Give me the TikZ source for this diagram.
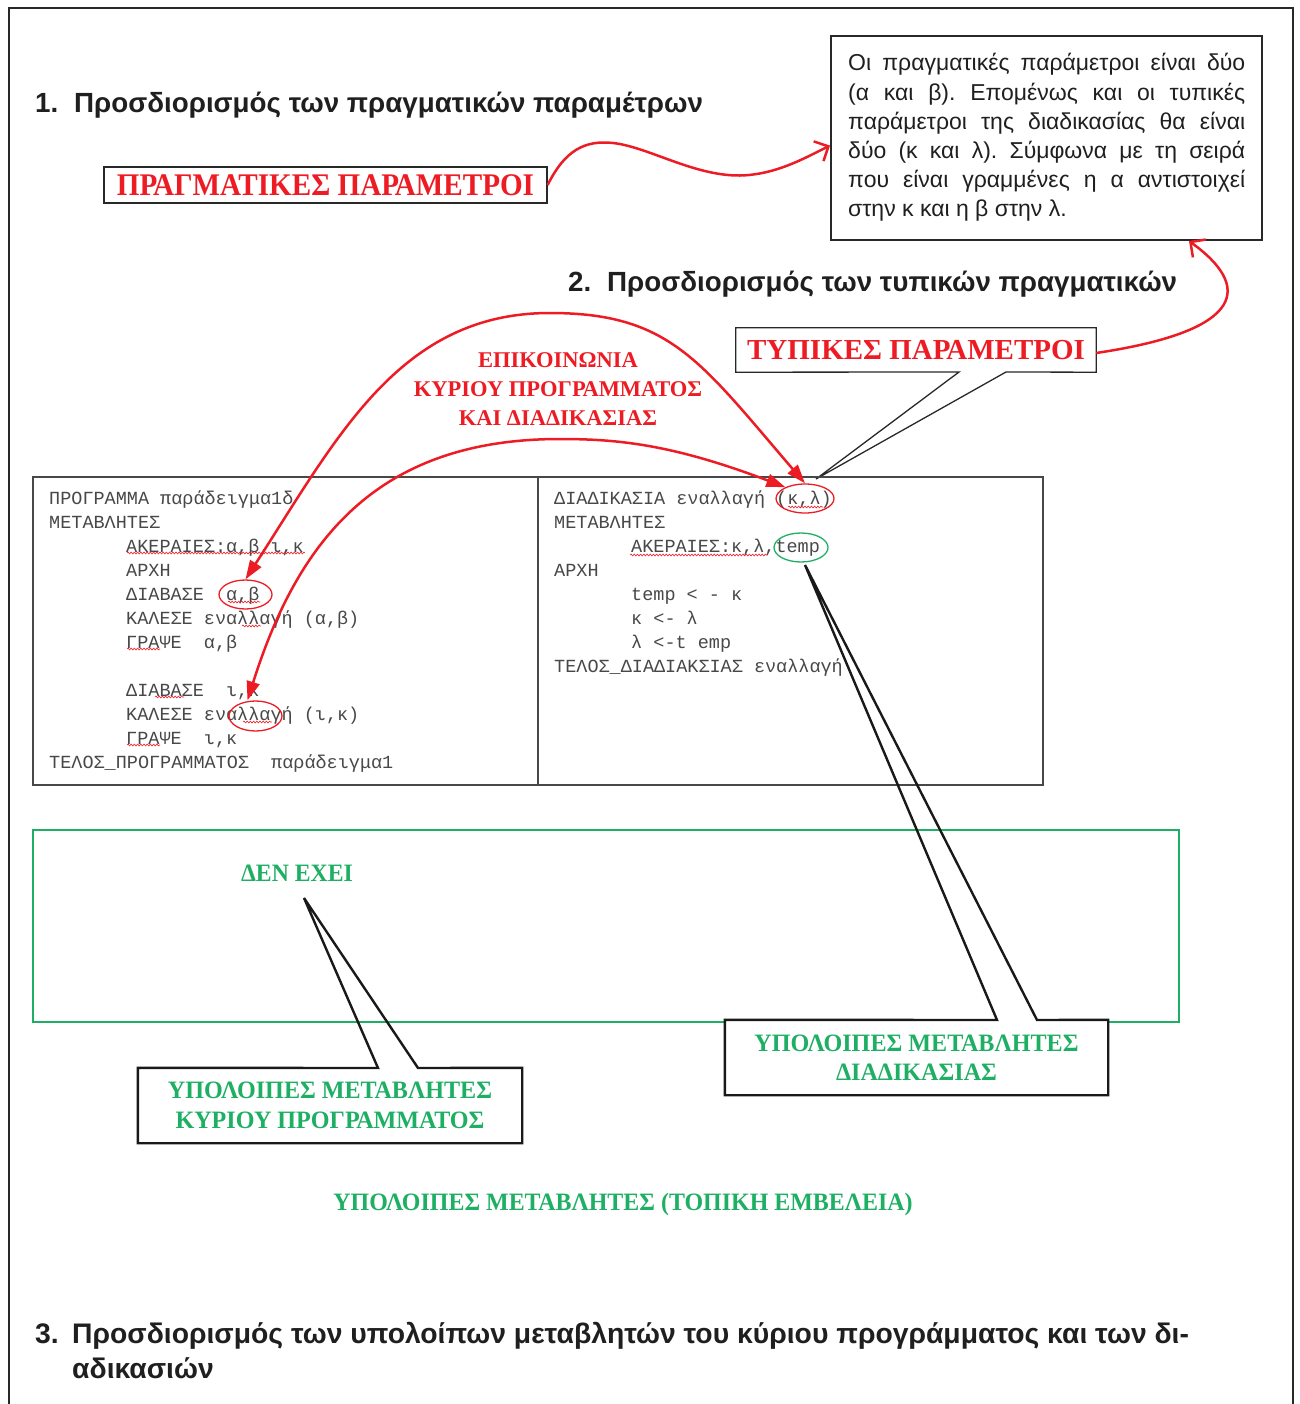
\documentclass[tikz,border=0pt]{standalone}
\usepackage{graphicx}
\usepackage{fontspec}
\setmainfont{Liberation Sans}
\newfontfamily\serifgr{Liberation Serif}
\newfontfamily\monogr{Liberation Mono}
\usetikzlibrary{arrows.meta,shapes.geometric,decorations.pathmorphing}

\definecolor{redline}{RGB}{237,28,36}
\definecolor{greenline}{RGB}{30,175,100}
\definecolor{codegray}{RGB}{72,72,72}
\definecolor{frame}{RGB}{40,40,40}

% horizontally narrowed text
\newcommand{\narrowed}[2]{\scalebox{#1}[1]{#2}}

\begin{document}
\begin{tikzpicture}[x=1pt,y=-1pt,
  head/.style={font=\bfseries\fontsize{27.75}{32}\selectfont, anchor=base west, inner sep=0pt, text=black!88},
  code/.style={font=\monogr\fontsize{18.5}{24}\selectfont, anchor=base west, inner sep=0pt, text=codegray},
  redlabel/.style={font=\serifgr\bfseries\fontsize{29}{34}\selectfont, text=redline, inner sep=0pt},
  redtitle/.style={font=\serifgr\bfseries\fontsize{22.5}{29}\selectfont, text=redline, align=center, inner sep=0pt},
  greenlabel/.style={font=\serifgr\bfseries\fontsize{25}{29.5}\selectfont, text=greenline, align=center, inner sep=0pt},
  ringmark/.style={ellipse, draw=redline, line width=1.3pt, inner sep=0pt},
  wavy/.style={draw=redline, line width=0.6pt, decorate, decoration={snake, amplitude=0.9pt, segment length=3.2pt}},
  link/.style={draw=redline, line width=2.5pt, {Triangle[length=19pt,width=13pt]}-{Triangle[length=19pt,width=13pt]}},
  pointer/.style={draw=redline, line width=2.5pt, -{Straight Barb[length=11pt,width=22pt]}},
  codebox/.style={draw=frame!85, line width=1.4pt},
  calloutline/.style={draw=black!90, line width=2.4pt, line join=miter}
]
\useasboundingbox (0,0) rectangle (1299,1404);

% outer frame, open at the bottom
\draw[frame, line width=2pt] (9,1404) -- (9,8) -- (1293,8) -- (1293,1404);

% section headings
\node[head] (h1) at (35,113) {\makebox[39pt][l]{1.}Προσδιορισμός των πραγματικών παραμέτρων};
\node[head] (h2) at (568,292) {\makebox[39pt][l]{2.}Προσδιορισμός των τυπικών πραγματικών};
\node[head, font=\bfseries\fontsize{28.3}{32}\selectfont] (h3a) at (35,1343) {\makebox[37pt][l]{3.}Προσδιορισμός των υπολοίπων μεταβλητών του κύριου προγράμματος και των δι-};
\node[head, font=\bfseries\fontsize{28.3}{32}\selectfont] (h3b) at (72,1378) {αδικασιών};

% explanation box
\node[draw=frame, line width=2pt, minimum width=431pt, minimum height=204pt, inner sep=0pt] (note) at (1046.5,138) {};
\node[anchor=base west, inner sep=0pt, text width=397pt, align=justify,
      font=\fontsize{23}{29.2}\selectfont\frenchspacing, text=black!88] (notetext) at (848,71)
  {Οι πραγματικές παράμετροι είναι δύο\linebreak
   (α και β). Επομένως και οι τυπικές\linebreak
   παράμετροι της διαδικασίας θα είναι\linebreak
   δύο (κ και λ). Σύμφωνα με τη σειρά\linebreak
   που είναι γραμμένες η α αντιστοιχεί\linebreak
   στην κ και η β στην λ.};

% actual parameters label
\node[redlabel, font=\serifgr\bfseries\fontsize{31.5}{34}\selectfont, draw=frame, line width=1.3pt, minimum width=443pt, minimum height=36pt] (prag) at (325.5,185) {\narrowed{0.925}{ΠΡΑΓΜΑΤΙΚΕΣ ΠΑΡΑΜΕΤΡΟΙ}};

% formal parameters label (callout)
\node[redlabel, minimum width=360pt, minimum height=44pt] (typ) at (916,350) {ΤΥΠΙΚΕΣ ΠΑΡΑΜΕΤΡΟΙ};
\coordinate (typpt) at (816,479);
\draw[draw=frame, line width=1.3pt, line join=miter] (typ.north west) -- (typ.north east) -- (typ.south east) -- (1006,372) -- (typpt) -- (959,372) -- (typ.south west) -- cycle;

% communication title
\node[redtitle] (epik) at (558,389) {ΕΠΙΚΟΙΝΩΝΙΑ\\ΚΥΡΙΟΥ ΠΡΟΓΡΑΜΜΑΤΟΣ\\ΚΑΙ ΔΙΑΔΙΚΑΣΙΑΣ};

% code listings
\draw[codebox] (33,477) rectangle (538,785);
\draw[codebox] (538,477) rectangle (1043,785);

\node[code] (l1)  at (49,504)  {ΠΡΟΓΡΑΜΜΑ παράδειγμα1δ};
\node[code] (l2)  at (49,528)  {ΜΕΤΑΒΛΗΤΕΣ};
\node[code] (l3)  at (126,552) {ΑΚΕΡΑΙΕΣ:α,β,ι,κ};
\node[code] (l4)  at (126,576) {ΑΡΧΗ};
\node[code] (l5)  at (126,600) {ΔΙΑΒΑΣΕ~~α,β};
\node[code] (l6)  at (126,624) {ΚΑΛΕΣΕ εναλλαγή (α,β)};
\node[code] (l7)  at (126,648) {ΓΡΑΨΕ~~α,β};
\node[code] (l8)  at (126,696) {ΔΙΑΒΑΣΕ~~ι,κ};
\node[code] (l9)  at (126,720) {ΚΑΛΕΣΕ εναλλαγή (ι,κ)};
\node[code] (l10) at (126,744) {ΓΡΑΨΕ~~ι,κ};
\node[code] (l11) at (49,768)  {ΤΕΛΟΣ\_ΠΡΟΓΡΑΜΜΑΤΟΣ~~παράδειγμα1};

\node[code] (r1) at (554,504) {ΔΙΑΔΙΚΑΣΙΑ εναλλαγή (κ,λ)};
\node[code] (r2) at (554,528) {ΜΕΤΑΒΛΗΤΕΣ};
\node[code] (r3) at (631,552) {ΑΚΕΡΑΙΕΣ:κ,λ,temp};
\node[code] (r4) at (554,576) {ΑΡΧΗ};
\node[code] (r5) at (631,600) {temp < - κ};
\node[code] (r6) at (631,624) {κ <- λ};
\node[code] (r7) at (631,648) {λ <-t emp};
\node[code] (r8) at (554,672) {ΤΕΛΟΣ\_ΔΙΑΔΙΑΚΣΙΑΣ εναλλαγή};

% spell-check underlines
\draw[wavy] (127,553) -- (305,553);
\draw[wavy] (228,602) -- (260,602);
\draw[wavy] (242,626) -- (261,626);
\draw[wavy] (127,649) -- (160,649);
\draw[wavy] (155,697) -- (184,697);
\draw[wavy] (243,722) -- (272,722);
\draw[wavy] (127,745) -- (160,745);
\draw[wavy] (788,507) -- (823,507);
\draw[wavy] (630,555) -- (767,555);

% marked parameters
\node[ringmark, minimum width=53pt, minimum height=29pt] (ab) at (245.5,594.5) {};
\node[ringmark, minimum width=53pt, minimum height=30pt] (enal) at (255.5,716) {};
\node[ringmark, minimum width=58pt, minimum height=29pt] (kl) at (805,498.5) {};
\node[ellipse, draw=greenline, line width=1.3pt, inner sep=0pt, minimum width=54pt, minimum height=29pt] (temp) at (801,547.5) {};

% local scope area
\draw[greenline, line width=2.5pt] (33,830) rectangle (1179,1022);
\node[greenlabel] (den) at (297,873) {\narrowed{0.95}{ΔΕΝ ΕΧΕΙ}};
\node[greenlabel] (scope) at (623,1204) {\narrowed{0.958}{ΥΠΟΛΟΙΠΕΣ ΜΕΤΑΒΛΗΤΕΣ (ΤΟΠΙΚΗ ΕΜΒΕΛΕΙΑ)}};

% callout: remaining variables of the main program
\coordinate (denpt) at (304,898);
\node[greenlabel, minimum width=384pt, minimum height=75pt] (lcall) at (330,1105.5)
  {\narrowed{0.965}{ΥΠΟΛΟΙΠΕΣ ΜΕΤΑΒΛΗΤΕΣ}\\\narrowed{0.965}{ΚΥΡΙΟΥ ΠΡΟΓΡΑΜΜΑΤΟΣ}};
\draw[calloutline] (lcall.north west) -- (378,1068) -- (denpt) -- (418,1068) -- (lcall.north east) -- (lcall.south east) -- (lcall.south west) -- cycle;

% callout: remaining variables of the procedure
\coordinate (rpt) at (805,565);
\node[greenlabel, fill=white, minimum width=383pt, minimum height=75pt] (rcall) at (916.5,1057.5)
  {\narrowed{0.965}{ΥΠΟΛΟΙΠΕΣ ΜΕΤΑΒΛΗΤΕΣ}\\\narrowed{0.965}{ΔΙΑΔΙΚΑΣΙΑΣ}};
\draw[calloutline] (rcall.north west) -- (997,1020) -- (rpt) -- (1037,1020) -- (rcall.north east) -- (rcall.south east) -- (rcall.south west) -- cycle;

% pointers to the explanation box
\draw[pointer] (prag.east) .. controls (565,150) and (585,140) .. (613,143)
  .. controls (650,147) and (700,180) .. (749,175)
  .. controls (780,172) and (805,158) .. (note.182);
\draw[pointer] ([yshift=-3pt]typ.east) .. controls (1250,330) and (1250,285) .. ([xshift=-74pt]note.south east);

% parameter passing between call and procedure
\draw[link] (ab.north) .. controls (338,436) and (400,313) .. (550,313)
  .. controls (670,313) and (700,361) .. (kl.north);
\draw[link] ([xshift=-8pt]enal.north) .. controls (299,537) and (380,439) .. (560,439)
  .. controls (620,439) and (674,445) .. (kl.150);
\end{tikzpicture}
\end{document}
